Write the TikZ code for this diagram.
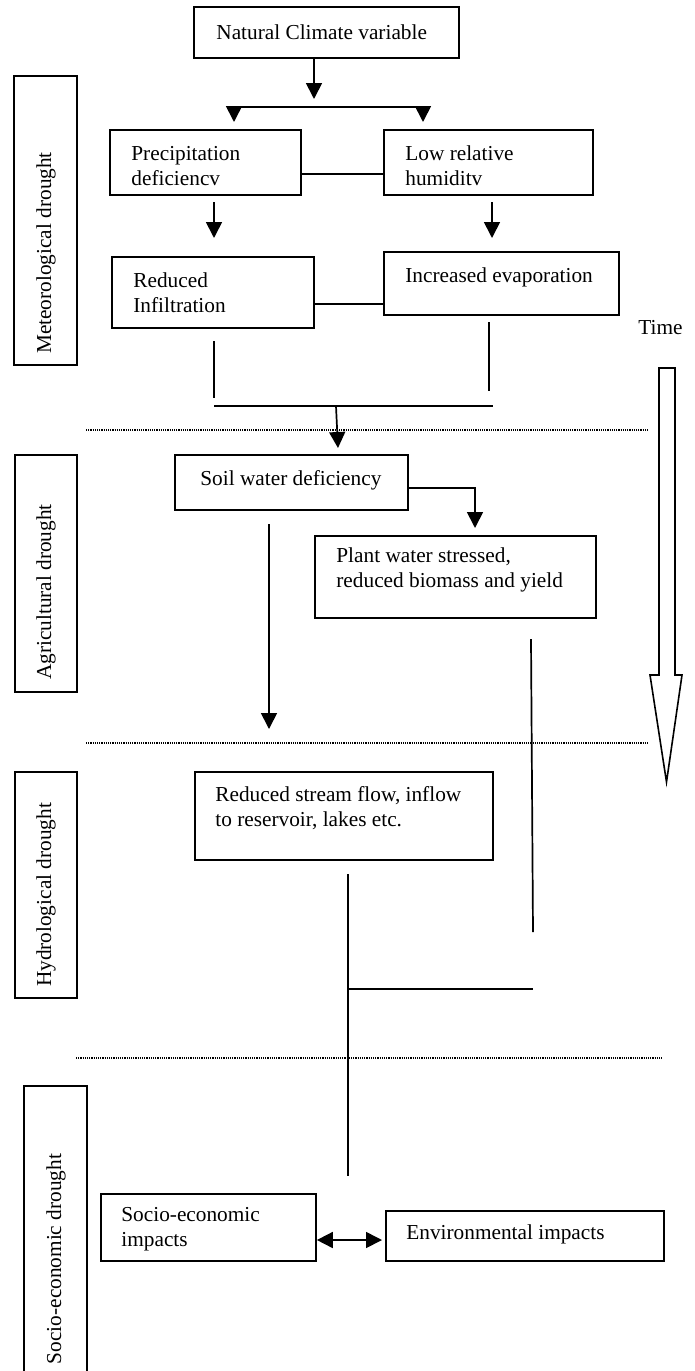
\documentclass[tikz,border=0pt]{standalone}
\usepackage{fontspec}
\setmainfont{Liberation Serif}
\usetikzlibrary{arrows.meta}
\begin{document}
\begin{tikzpicture}[x=0.5pt,y=-0.5pt,
  box/.style={draw, line width=0.85pt, rectangle, inner sep=0pt},
  sz/.style 2 args={minimum width=#1*0.5pt, minimum height=#2*0.5pt},
  txt/.style={font=\fontsize{10.65pt}{12.5pt}\selectfont, align=left, inner sep=0pt, anchor=west},
  vlab/.style={font=\fontsize{10.65pt}{12.5pt}\selectfont, rotate=90, inner sep=0pt},
  conn/.style={line width=0.85pt},
  arr/.style={conn, -{Triangle[length=8pt,width=8pt]}},
  darr/.style={conn, {Triangle[length=8pt,width=8pt]}-{Triangle[length=8pt,width=8pt]}},
  sep/.style={line width=0.55pt, dash pattern=on 0.6pt off 0.5pt}
]
\useasboundingbox (0,0) rectangle (695,1371);

% stage label boxes
\node[box, sz={63}{289}] (met) at (45.5,220.5) {};
\node[vlab] (metT) at (46,253) {Meteorological drought};
\node[box, sz={62}{237}] (agri) at (46,573.5) {};
\node[vlab] (agriT) at (46,592) {Agricultural drought};
\node[box, sz={62}{226}] (hyd) at (46,885) {};
\node[vlab] (hydT) at (46,895) {Hydrological drought};
\draw[line width=0.85pt] (24,1380) -- (24,1086) -- (87,1086) -- (87,1380);
\node[vlab] (socT) at (56,1259) {Socio-economic drought};

% separators
\draw[sep] (86,430) -- (648,430);
\draw[sep] (86,743) -- (648,743);
\draw[sep] (76,1058) -- (662,1058);

% boxes
\node[box, sz={265}{51}] (nat) at (326.5,32.5) {};
\node[txt] (natT) at (216,32.5) {Natural Climate variable};
\node[box, sz={191}{65}] (prec) at (205.5,162.5) {};
\node[txt] (precT) at (131,166) {Precipitation\\deficiencv};
\node[box, sz={209}{65}] (low) at (488.5,162.5) {};
\node[txt] (lowT) at (405,166) {Low relative\\humiditv};
\node[box, sz={202}{71}] (red) at (213,292.5) {};
\node[txt] (redT) at (133,292.5) {Reduced\\Infiltration};
\node[box, sz={235}{63}] (evap) at (501.5,283.5) {};
\node[txt] (evapT) at (405,277) {Increased evaporation};
\node[box, sz={233}{55}] (soil) at (291.5,482.5) {};
\node[txt] (soilT) at (200,480) {Soil water deficiency};
\node[box, sz={281}{82}] (plant) at (455.5,577) {};
\node[txt] (plantT) at (336,570) {Plant water stressed,\\reduced biomass and yield};
\node[box, sz={298}{88}] (stream) at (344,816) {};
\node[txt] (streamT) at (215,808) {Reduced stream flow, inflow\\to reservoir, lakes etc.};
\node[box, sz={215}{67}] (soc) at (208.5,1227.5) {};
\node[txt] (socT2) at (121,1229) {Socio-economic\\impacts};
\node[box, sz={278}{50}] (env) at (525,1236) {};
\node[txt] (envT) at (406,1234) {Environmental impacts};

% time arrow
\node[txt] (time) at (638,328) {Time};
\draw[line width=0.8pt] (659,368) -- (675,368) -- (675,675) -- (682,675) -- (666.5,782)
  -- (650,675) -- (659,675) -- cycle;

% connectors
\coordinate (a1) at (314,99);
\draw[arr] (nat.south -| a1) -- (a1);
\coordinate (sl) at (234,107); \coordinate (sr) at (423,107);
\coordinate (slt) at (234,122); \coordinate (srt) at (423,122);
\draw[conn] (sl) -- (sr);
\draw[arr] (sl) -- (slt);
\draw[arr] (sr) -- (srt);

\coordinate (y1) at (0,174);
\draw[conn] (prec.east |- y1) -- (low.west |- y1);
\coordinate (p1) at (214,202); \coordinate (p2) at (214,238);
\draw[arr] (p1) -- (p2);
\coordinate (q1) at (492,202); \coordinate (q2) at (492,238);
\draw[arr] (q1) -- (q2);

\coordinate (y2) at (0,304);
\draw[conn] (red.east |- y2) -- (evap.west |- y2);

\coordinate (v1a) at (214,341); \coordinate (v1b) at (214,398);
\draw[conn] (v1a) -- (v1b);
\coordinate (v2a) at (489,322); \coordinate (v2b) at (489,391);
\draw[conn] (v2a) -- (v2b);
\coordinate (h1a) at (214,406); \coordinate (h1b) at (493,406);
\draw[conn] (h1a) -- (h1b);
\coordinate (m1) at (336,406); \coordinate (m2) at (338,448);
\draw[arr] (m1) -- (m2);

\coordinate (sw) at (475,488); \coordinate (swt) at (475,528);
\draw[arr] (soil.east |- sw) -- (sw) -- (swt);
\coordinate (d1) at (269,524); \coordinate (d2) at (269,729);
\draw[arr] (d1) -- (d2);
\coordinate (e1) at (531,639); \coordinate (e2) at (533,932);
\draw[conn] (e1) -- (e2);
\coordinate (f1) at (348,874); \coordinate (f2) at (348,1176);
\draw[conn] (f1) -- (f2);
\coordinate (g1) at (348,989); \coordinate (g2) at (533,989);
\draw[conn] (g1) -- (g2);
\coordinate (k1) at (0,1240); \coordinate (k2) at (382,1240);
\draw[darr] (soc.east |- k1) -- (k2);
\end{tikzpicture}
\end{document}
